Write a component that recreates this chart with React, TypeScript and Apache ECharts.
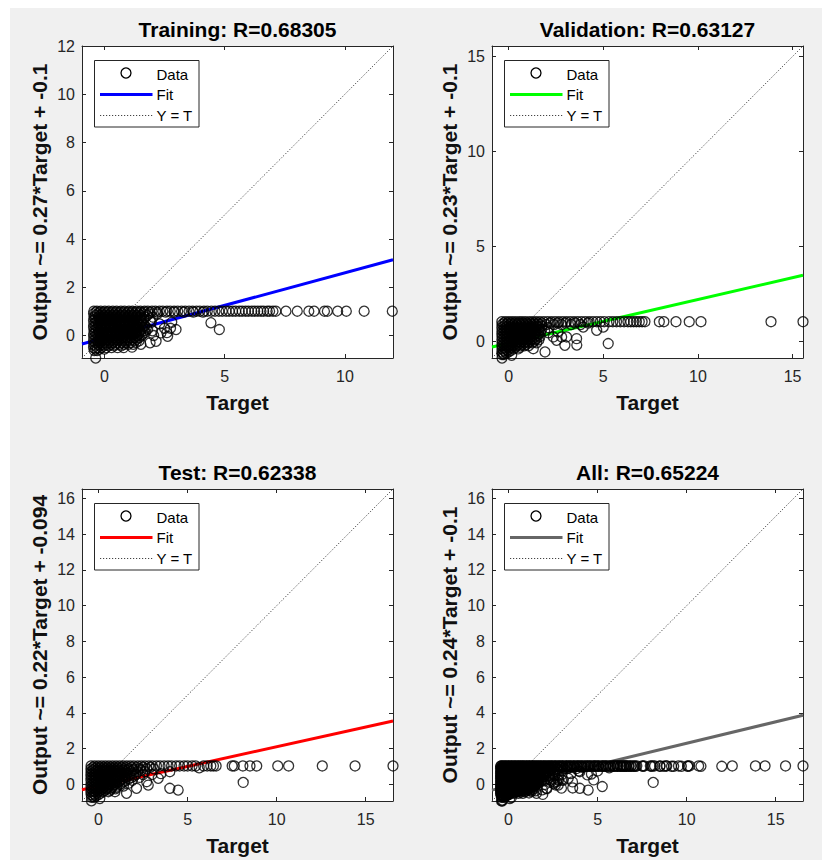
import React, { useEffect, useRef } from 'react';
import * as echarts from 'echarts';

// ---------- texts ----------
const panelTitles = ['Training: R=0.68305', 'Validation: R=0.63127', 'Test: R=0.62338', 'All: R=0.65224'];
const yAxisNames = [
  'Output ~= 0.27*Target + -0.1',
  'Output ~= 0.23*Target + -0.1',
  'Output ~= 0.22*Target + -0.094',
  'Output ~= 0.24*Target + -0.1',
];
const xAxisName = 'Target';
const legendLabels = ['Data', 'Fit', 'Y = T'];

// ---------- fits and limits ----------
const fitSlopes = [0.27, 0.23, 0.22, 0.24];
const fitIntercepts = [-0.1, -0.1, -0.094, -0.1];
const axisMins = [-0.93, -0.88, -0.93, -0.93];
const axisMaxs = [12.0, 15.55, 16.53, 16.53];

// ---------- tick labels ----------
const xTickValues = [
  [0, 5, 10],
  [0, 5, 10, 15],
  [0, 5, 10, 15],
  [0, 5, 10, 15],
];
const yTickValues = [
  [0, 2, 4, 6, 8, 10, 12],
  [0, 5, 10, 15],
  [0, 2, 4, 6, 8, 10, 12, 14, 16],
  [0, 2, 4, 6, 8, 10, 12, 14, 16],
];

// ---------- data: rows of [output, targets[]] ----------
type Row = [number, number[]];

const trainingRows: Row[] = [
  [1.01, [-0.44, -0.31, -0.15, 0.02, 0.18, 0.35, 0.51, 0.69, 0.84, 1.02, 1.17, 1.35, 1.5, 1.67, 1.81, 1.98, 2.12, 2.29, 2.43, 2.6, 2.74, 2.9, 3.05, 3.21, 3.36, 3.52, 3.67, 3.83, 3.97, 4.14, 4.28, 4.45, 4.6, 4.76, 4.9, 5.06, 5.19, 5.33, 5.46, 5.61, 5.73, 5.87, 5.99, 6.13, 6.25, 6.38, 6.51, 6.62, 6.77, 6.87, 7.01, 7.13, 7.55, 8.02, 8.5, 8.72, 9.15, 9.27, 9.7, 10.06, 10.8, 11.97]],
  [0.97, [-0.36, -0.2, -0.03, 0.13, 0.3, 0.47, 0.63, 0.8, 0.97, 1.14, 1.3, 1.47, 1.65, 1.9, 2.2, 2.55, 2.9, 3.3, 3.7, 4.1]],
  [0.9, [-0.45, -0.28, -0.1, 0.06, 0.24, 0.4, 0.58, 0.74, 0.9, 1.08, 1.25, 1.42, 1.6, 1.85, 2.2]],
  [0.83, [-0.37, -0.19, -0.02, 0.15, 0.32, 0.49, 0.66, 0.83, 1.0, 1.17, 1.34, 1.52, 1.78]],
  [0.76, [-0.43, -0.25, -0.08, 0.1, 0.27, 0.44, 0.6, 0.78, 0.95, 1.12, 1.3, 1.48, 1.7, 2.02]],
  [0.69, [-0.38, -0.21, -0.05, 0.12, 0.28, 0.45, 0.61, 0.78, 0.95, 1.12, 1.29, 1.46, 1.64]],
  [0.62, [-0.45, -0.3, -0.14, 0.03, 0.2, 0.36, 0.52, 0.7, 0.86, 1.04, 1.2, 1.38, 1.55, 1.9]],
  [0.55, [-0.36, -0.18, -0.01, 0.16, 0.33, 0.51, 0.68, 0.85, 1.02, 1.19, 1.36, 1.54, 1.95]],
  [0.48, [-0.44, -0.26, -0.1, 0.07, 0.25, 0.42, 0.6, 0.76, 0.93, 1.1, 1.28, 1.45, 1.62, 2.3]],
  [0.41, [-0.37, -0.2, -0.04, 0.13, 0.3, 0.47, 0.64, 0.81, 0.98, 1.15, 1.32, 1.5, 1.68]],
  [0.34, [-0.45, -0.28, -0.12, 0.04, 0.22, 0.38, 0.55, 0.72, 0.9, 1.06, 1.24, 1.4, 1.58, 1.75]],
  [0.27, [-0.35, -0.17, 0.01, 0.18, 0.35, 0.52, 0.69, 0.86, 1.03, 1.21, 1.38, 1.56, 1.8]],
  [0.2, [-0.43, -0.25, -0.08, 0.1, 0.26, 0.44, 0.6, 0.78, 0.95, 1.12, 1.3, 1.47, 1.65, 2.0]],
  [0.13, [-0.38, -0.21, -0.03, 0.14, 0.3, 0.47, 0.64, 0.81, 0.98, 1.16, 1.33, 1.51, 1.7]],
  [0.06, [-0.45, -0.3, -0.12, 0.05, 0.22, 0.38, 0.56, 0.72, 0.9, 1.07, 1.25, 1.42, 1.6]],
  [-0.01, [-0.36, -0.19, -0.02, 0.16, 0.33, 0.5, 0.67, 0.84, 1.01, 1.19, 1.36, 1.54]],
  [-0.08, [-0.44, -0.27, -0.1, 0.08, 0.24, 0.42, 0.58, 0.75, 0.92, 1.1, 1.28, 1.45]],
  [-0.15, [-0.37, -0.2, -0.03, 0.15, 0.32, 0.49, 0.66, 0.83, 1.0, 1.17, 1.35]],
  [-0.22, [-0.45, -0.28, -0.11, 0.06, 0.23, 0.4, 0.57, 0.74, 0.92, 1.08, 1.26, 1.44]],
  [-0.29, [-0.36, -0.18, 0.0, 0.18, 0.36, 0.54, 0.72, 0.9, 1.1, 1.32]],
  [-0.36, [-0.44, -0.26, -0.08, 0.1, 0.28, 0.46, 0.64, 0.82, 1.0, 1.2, 1.52]],
  [-0.43, [-0.38, -0.2, -0.02, 0.18, 0.4, 0.7]],
  [-0.5, [-0.45, -0.3, -0.12, 0.08, 0.3, 0.55]],
  [-0.56, [-0.37, -0.2, 0.0]],
  [-0.62, [-0.42, -0.3]],
];
const trainingExtra: number[][] = [
  [-0.36, -0.93], [2.15, -0.24], [2.35, 0.11], [2.63, -0.03], [2.98, 0.25], [2.8, 0.55],
  [2.5, 0.3], [4.43, 0.53], [4.78, 0.25], [2.05, 0.0], [2.6, 0.12], [2.75, 0.3],
  [1.9, -0.3], [1.15, -0.48], [0.8, -0.5],
];

const validationRows: Row[] = [
  [1.03, [-0.36, -0.18, 0.0, 0.18, 0.36, 0.55, 0.72, 0.9, 1.1, 1.28, 1.46, 1.65, 1.85, 2.05, 2.25, 2.45, 2.65, 2.85, 3.05, 3.25, 3.45, 3.65, 3.85, 4.05, 4.25, 4.45, 4.65, 4.85, 5.05, 5.3, 5.5, 5.7, 5.9, 6.1, 6.3, 6.45, 6.6, 6.75, 6.9, 7.05, 7.2, 7.96, 8.2, 8.84, 9.54, 10.16, 13.86, 15.55]],
  [0.96, [-0.26, -0.06, 0.14, 0.34, 0.54, 0.74, 0.94, 1.14, 1.34, 1.54, 1.76, 2.2, 2.6, 3.0, 3.5, 4.2]],
  [0.88, [-0.35, -0.15, 0.05, 0.25, 0.45, 0.65, 0.85, 1.05, 1.25, 1.45, 1.65, 2.0, 2.4, 2.8, 3.3, 3.8]],
  [0.8, [-0.26, -0.06, 0.13, 0.32, 0.52, 0.7, 0.9, 1.1, 1.3, 1.5, 1.75]],
  [0.72, [-0.36, -0.16, 0.03, 0.22, 0.42, 0.6, 0.8, 1.0, 1.2, 1.4, 1.6, 2.1]],
  [0.64, [-0.25, -0.05, 0.14, 0.34, 0.53, 0.72, 0.92, 1.12, 1.32, 1.52, 1.75]],
  [0.56, [-0.35, -0.15, 0.05, 0.24, 0.44, 0.63, 0.82, 1.02, 1.22, 1.42, 1.62, 1.9]],
  [0.48, [-0.26, -0.07, 0.12, 0.3, 0.5, 0.7, 0.88, 1.08, 1.28, 1.48, 1.7]],
  [0.4, [-0.36, -0.17, 0.02, 0.2, 0.4, 0.6, 0.78, 0.98, 1.18, 1.38, 1.58]],
  [0.32, [-0.25, -0.05, 0.15, 0.35, 0.54, 0.74, 0.94, 1.13, 1.33, 1.55]],
  [0.24, [-0.35, -0.15, 0.05, 0.25, 0.44, 0.64, 0.84, 1.03, 1.23, 1.43, 1.65]],
  [0.16, [-0.26, -0.06, 0.13, 0.32, 0.52, 0.71, 0.9, 1.1, 1.3, 1.5]],
  [0.08, [-0.36, -0.16, 0.04, 0.22, 0.42, 0.62, 0.8, 1.0, 1.2, 1.4, 1.6]],
  [0.0, [-0.25, -0.05, 0.14, 0.33, 0.53, 0.72, 0.92, 1.12, 1.35]],
  [-0.08, [-0.35, -0.15, 0.05, 0.24, 0.44, 0.64, 0.84, 1.04, 1.25, 1.48]],
  [-0.16, [-0.26, -0.06, 0.14, 0.34, 0.54, 0.74, 0.95]],
  [-0.24, [-0.36, -0.16, 0.03, 0.22, 0.42, 0.62, 0.82, 1.05]],
  [-0.32, [-0.25, -0.05, 0.14, 0.35, 0.6]],
  [-0.4, [-0.35, -0.15, 0.05, 0.26, 0.5]],
  [-0.48, [-0.26, -0.07, 0.12]],
  [-0.56, [-0.36, -0.18, 0.0]],
  [-0.63, [-0.3, -0.12]],
  [-0.7, [-0.35, -0.25]],
];
const validationExtra: number[][] = [
  [-0.35, -0.88], [0.16, -0.74], [1.3, -0.39], [1.92, -0.56], [2.36, 0.23], [2.53, 0.05],
  [2.8, 0.23], [2.97, -0.21], [3.06, 0.23], [3.59, 0.14], [3.6, -0.2], [3.94, 0.75],
  [4.65, 0.58], [5.0, 0.75], [5.26, -0.12], [2.1, 0.45], [2.6, 0.5],
];

const testRows: Row[] = [
  [1.03, [-0.42, -0.22, -0.02, 0.18, 0.38, 0.58, 0.78, 0.98, 1.18, 1.38, 1.58, 1.78, 1.98, 2.2, 2.4, 2.6, 2.82, 3.02, 3.25, 3.45, 3.68, 3.9, 4.1, 4.35, 4.55, 4.8, 5.0, 5.25, 5.45, 5.9, 6.1, 6.3, 6.45, 6.6, 7.5, 7.62, 8.1, 8.5, 8.88, 10.06, 10.67, 12.56, 14.4, 16.53]],
  [0.95, [-0.32, -0.12, 0.08, 0.28, 0.48, 0.68, 0.88, 1.08, 1.3, 1.55, 1.85, 2.15, 2.5, 2.9]],
  [0.87, [-0.43, -0.22, -0.02, 0.2, 0.4, 0.6, 0.8, 1.0, 1.2, 1.45, 1.7, 2.0, 2.3, 2.7, 3.1]],
  [0.79, [-0.32, -0.1, 0.1, 0.3, 0.5, 0.7, 0.9, 1.12, 1.37, 1.62, 1.95, 2.4]],
  [0.71, [-0.42, -0.2, 0.0, 0.2, 0.4, 0.6, 0.8, 1.0, 1.25, 1.5, 1.8, 2.2, 2.6]],
  [0.63, [-0.33, -0.12, 0.08, 0.28, 0.48, 0.68, 0.88, 1.1, 1.33, 1.6, 1.95]],
  [0.55, [-0.43, -0.22, -0.02, 0.18, 0.38, 0.58, 0.78, 0.98, 1.2, 1.45, 1.75, 2.1, 2.5]],
  [0.47, [-0.32, -0.1, 0.1, 0.3, 0.5, 0.7, 0.9, 1.1, 1.35, 1.65, 2.0]],
  [0.39, [-0.42, -0.2, 0.0, 0.2, 0.4, 0.6, 0.8, 1.0, 1.22, 1.5, 1.85, 2.3]],
  [0.31, [-0.33, -0.12, 0.08, 0.28, 0.48, 0.68, 0.88, 1.1, 1.35, 1.7]],
  [0.23, [-0.43, -0.22, -0.02, 0.18, 0.38, 0.58, 0.78, 0.98, 1.2, 1.5, 1.9]],
  [0.15, [-0.32, -0.1, 0.1, 0.3, 0.5, 0.7, 0.9, 1.15, 1.45]],
  [0.07, [-0.42, -0.2, 0.0, 0.2, 0.4, 0.6, 0.8, 1.02, 1.3, 1.7]],
  [-0.01, [-0.33, -0.12, 0.08, 0.28, 0.48, 0.68, 0.9, 1.2]],
  [-0.09, [-0.43, -0.22, -0.02, 0.18, 0.38, 0.58, 0.8, 1.05, 1.4]],
  [-0.17, [-0.32, -0.1, 0.1, 0.3, 0.5, 0.75, 1.0]],
  [-0.25, [-0.42, -0.2, 0.0, 0.22, 0.45, 0.7, 0.95]],
  [-0.33, [-0.33, -0.12, 0.1, 0.35, 0.65]],
  [-0.41, [-0.43, -0.22, 0.0, 0.25, 0.55]],
  [-0.49, [-0.32, -0.1, 0.12]],
  [-0.57, [-0.42, -0.22, 0.0]],
  [-0.65, [-0.33, -0.15]],
  [-0.72, [-0.4, -0.25]],
];
const testExtra: number[][] = [
  [-0.4, -0.92], [0.07, -0.79], [0.92, -0.41], [1.57, -0.5], [2.13, -0.22], [2.79, -0.04],
  [2.7, 0.15], [3.35, 0.34], [3.0, 0.55], [4.0, -0.22], [4.47, -0.32], [4.0, 0.71],
  [5.65, 0.93], [8.12, 0.11], [3.5, 0.6],
];

// ---------- layout / style ----------
const gridLefts = [82, 492, 82, 492];
const gridTops = [46, 46, 489, 489];
const GRID_W = 311;
const GRID_H = 312;
const fitColors = ['#0000ff', '#00ff00', '#ff0000', '#666666'];
const FONT = "'Liberation Sans', Arial, Helvetica, sans-serif";
const AXIS_COLOR = '#262626';
const DOT_COLOR = '#444444';

const rowsToPoints = (rows: Row[]) => rows.flatMap(([o, ts]) => ts.map((t) => [t, o]));

function buildOption() {
  const training = [...rowsToPoints(trainingRows), ...trainingExtra];
  const validation = [...rowsToPoints(validationRows), ...validationExtra];
  const test = [...rowsToPoints(testRows), ...testExtra];
  const all = [...training, ...validation, ...test];
  const panelPoints = [training, validation, test, all];

  const grids: any[] = [];
  const xAxes: any[] = [];
  const yAxes: any[] = [];
  const series: any[] = [];
  const graphics: any[] = [];

  for (let i = 0; i < 4; i++) {
    const L = gridLefts[i];
    const T = gridTops[i];
    const mn = axisMins[i];
    const mx = axisMaxs[i];
    grids.push({
      left: L, top: T, width: GRID_W, height: GRID_H,
      show: true, backgroundColor: '#ffffff', borderWidth: 0, containLabel: false,
    });
    const lineCommon = { show: true, onZero: false, lineStyle: { color: AXIS_COLOR, width: 1 } };
    const tickCommon = (vals: number[]) => ({
      show: true, inside: true, length: 4, customValues: vals, lineStyle: { color: AXIS_COLOR, width: 1 },
    });
    const labelCommon = (vals: number[], margin: number) => ({
      show: true, customValues: vals, margin, fontSize: 16, color: AXIS_COLOR, fontFamily: FONT,
    });
    const nameStyle = { fontSize: 21, fontWeight: 'bold', color: '#111', fontFamily: FONT };

    xAxes.push({
      type: 'value', gridIndex: i, min: mn, max: mx, position: 'bottom',
      splitLine: { show: false }, axisLine: lineCommon,
      axisTick: tickCommon(xTickValues[i]), axisLabel: labelCommon(xTickValues[i], 10),
      name: xAxisName, nameLocation: 'middle', nameGap: 34, nameTextStyle: nameStyle,
    });
    xAxes.push({
      type: 'value', gridIndex: i, min: mn, max: mx, position: 'top',
      splitLine: { show: false }, axisLine: lineCommon,
      axisTick: tickCommon(xTickValues[i]), axisLabel: { show: false },
    });
    yAxes.push({
      type: 'value', gridIndex: i, min: mn, max: mx, position: 'left',
      splitLine: { show: false }, axisLine: lineCommon,
      axisTick: tickCommon(yTickValues[i]), axisLabel: labelCommon(yTickValues[i], 7),
      name: yAxisNames[i], nameLocation: 'middle', nameGap: 32, nameTextStyle: nameStyle,
    });
    yAxes.push({
      type: 'value', gridIndex: i, min: mn, max: mx, position: 'right',
      splitLine: { show: false }, axisLine: lineCommon,
      axisTick: tickCommon(yTickValues[i]), axisLabel: { show: false },
    });

    const xi = 2 * i;
    const yi = 2 * i;
    series.push({
      type: 'line', name: 'Y = T', xAxisIndex: xi, yAxisIndex: yi,
      data: [[mn, mn], [mx, mx]], symbol: 'none', showSymbol: false, silent: true,
      lineStyle: { color: DOT_COLOR, width: 1, type: [1.2, 1.8] }, z: 2,
    });
    series.push({
      type: 'line', name: 'Fit', xAxisIndex: xi, yAxisIndex: yi,
      data: [[mn, fitSlopes[i] * mn + fitIntercepts[i]], [mx, fitSlopes[i] * mx + fitIntercepts[i]]],
      symbol: 'none', showSymbol: false, silent: true,
      lineStyle: { color: fitColors[i], width: 3 }, z: 3,
    });
    series.push({
      type: 'scatter', name: 'Data', xAxisIndex: xi, yAxisIndex: yi,
      data: panelPoints[i], symbol: 'circle', symbolSize: 10, silent: true,
      itemStyle: { color: 'rgba(0,0,0,0)', borderColor: '#000000', borderWidth: 1.3 }, z: 4,
    });

    // title
    graphics.push({
      type: 'text', x: L + GRID_W / 2, y: T - 16.8, z: 100,
      style: { text: panelTitles[i], fill: '#000', font: `bold 21px ${FONT}`, align: 'center', verticalAlign: 'middle' },
    });
    // legend box
    graphics.push({
      type: 'rect', z: 100,
      shape: { x: L + 12.5, y: T + 14.5, width: 104.5, height: 66.5 },
      style: { fill: '#ffffff', stroke: AXIS_COLOR, lineWidth: 1 },
    });
    graphics.push({
      type: 'circle', z: 101,
      shape: { cx: L + 44, cy: T + 27, r: 5 },
      style: { fill: 'none', stroke: '#000', lineWidth: 1.3 },
    });
    graphics.push({
      type: 'line', z: 101,
      shape: { x1: L + 18, y1: T + 48.5, x2: L + 70.5, y2: T + 48.5 },
      style: { stroke: fitColors[i], lineWidth: 3 },
    });
    graphics.push({
      type: 'line', z: 101,
      shape: { x1: L + 18, y1: T + 69.5, x2: L + 70.5, y2: T + 69.5 },
      style: { stroke: DOT_COLOR, lineWidth: 1, lineDash: [1.2, 1.8] },
    });
    const rowsY = [28, 48.7, 69.3];
    legendLabels.forEach((lab, k) => {
      graphics.push({
        type: 'text', x: L + 74.5, y: T + rowsY[k], z: 101,
        style: { text: lab, fill: '#000', font: `15px ${FONT}`, align: 'left', verticalAlign: 'middle' },
      });
    });
  }

  return {
    animation: false,
    backgroundColor: 'transparent',
    grid: grids,
    xAxis: xAxes,
    yAxis: yAxes,
    series,
    graphic: { elements: graphics },
  };
}

export default function App() {
  const ref = useRef<HTMLDivElement>(null);
  useEffect(() => {
    if (!ref.current) return;
    const chart = echarts.init(ref.current, null, { renderer: 'svg' });
    chart.setOption(buildOption() as any);
    return () => chart.dispose();
  }, []);
  return (
    <div style={{ position: 'absolute', left: 0, top: 0, width: 822, height: 861, background: '#ffffff' }}>
      <div style={{ position: 'absolute', left: 10, top: 8, width: 812, height: 852, background: '#f0f0f0' }} />
      <div ref={ref} style={{ position: 'absolute', left: 0, top: 0, width: 822, height: 861 }} />
    </div>
  );
}
